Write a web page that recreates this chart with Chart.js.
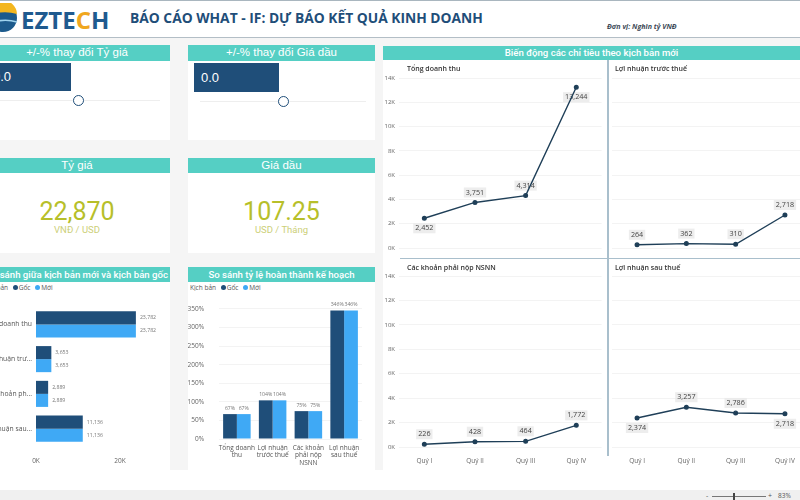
<!DOCTYPE html>
<html lang="vi">
<head>
<meta charset="utf-8">
<title>Báo cáo What-If</title>
<script src="https://cdn.jsdelivr.net/npm/chart.js@4"></script>
<style>
  html, body { margin: 0; padding: 0; }
  body { width: 800px; height: 500px; overflow: hidden; position: relative; background: #fff; font-family: "Open Sans", sans-serif; }
  .abs, canvas { position: absolute; }
  .card { position: absolute; background: #fff; }
  .head { position: absolute; background: #55cfc4; color: #fff; text-align: center; white-space: nowrap; }
  .ttl { position: absolute; font-size: 7px; font-weight: 600; color: #333; white-space: nowrap; }
  .big { position: absolute; text-align: center; font-family: Roboto, sans-serif; font-size: 25px; color: #b7bf2a; }
  .sub { position: absolute; text-align: center; font-family: Roboto, sans-serif; font-size: 9.5px; color: #cccf78; }
  .legend { position: absolute; font-size: 6.5px; color: #555; white-space: nowrap; }
  .legend i { display: inline-block; width: 5px; height: 5px; border-radius: 50%; margin: 0 1px 0 3px; }
</style>
</head>
<body>
<div class="abs" style="left:0;top:38px;width:800px;height:432px;background:#f5f5f5"></div>
<div class="abs" style="left:0;top:0;width:800px;height:38px;background:#fff;border-top:1px solid #a9b6bf;border-bottom:1px solid #b3bec6;box-sizing:border-box"></div>

<svg class="abs" style="left:0;top:3px" width="21" height="30">
  <circle cx="3" cy="15" r="14" fill="#1c5a8c"/>
  <path d="M-11 12 A14 14 0 0 1 17 11 Q4 7 -11 12Z" fill="#f3b61f"/>
  <path d="M-9 20 Q4 15 17 19" stroke="#9fd3ee" stroke-width="1.5" fill="none"/>
</svg>
<div class="abs" style="left:21px;top:3px;font:700 24px 'Open Sans',sans-serif;color:#1f5a8f;white-space:nowrap">EZTE<span style="color:#f0a71f">C</span>H</div>
<div class="abs" style="left:130px;top:8px;font:700 13.8px 'Open Sans',sans-serif;color:#1f4e79;white-space:nowrap">BÁO CÁO WHAT - IF: DỰ BÁO KẾT QUẢ KINH DOANH</div>
<div class="abs" style="left:607px;top:21px;font:italic 700 7.1px 'Open Sans',sans-serif;color:#3d4a57;white-space:nowrap">Đơn vị: Nghìn tỷ VNĐ</div>

<!-- thẻ nhập -->
<div class="card" style="left:-16px;top:45px;width:186px;height:95px"></div>
<div class="card" style="left:188px;top:45px;width:187px;height:95px"></div>
<div class="head" style="left:-16px;top:45px;width:186px;height:16px;font:11.5px/15px 'Liberation Sans',sans-serif">+/-% thay đổi Tỷ giá</div>
<div class="head" style="left:188px;top:45px;width:187px;height:16px;font:11.5px/15px 'Liberation Sans',sans-serif">+/-% thay đổi Giá dầu</div>
<div class="abs" style="left:-14px;top:63px;width:85px;height:28px;background:#1f4e79;color:#fff;font:13px/28px 'Liberation Sans',sans-serif;text-indent:7px">0.0</div>
<div class="abs" style="left:194px;top:63px;width:85px;height:29px;background:#1f4e79;color:#fff;font:13px/29px 'Liberation Sans',sans-serif;text-indent:7px">0.0</div>
<div class="abs" style="left:0;top:100px;width:160px;height:1px;background:#eee"></div>
<div class="abs" style="left:200px;top:101px;width:166px;height:1px;background:#eee"></div>
<div class="abs" style="left:73px;top:95px;width:9px;height:9px;border:1.5px solid #1f4e79;border-radius:50%;background:#fff"></div>
<div class="abs" style="left:278px;top:96px;width:9px;height:9px;border:1.5px solid #1f4e79;border-radius:50%;background:#fff"></div>

<!-- thẻ giá trị -->
<div class="card" style="left:-16px;top:158px;width:186px;height:95px"></div>
<div class="card" style="left:188px;top:158px;width:187px;height:95px"></div>
<div class="head" style="left:-16px;top:158px;width:186px;height:15px;font:11.5px/14px 'Liberation Sans',sans-serif">Tỷ giá</div>
<div class="head" style="left:188px;top:158px;width:187px;height:15px;font:11.5px/14px 'Liberation Sans',sans-serif">Giá dầu</div>
<div class="big" style="left:-16px;top:197px;width:186px">22,870</div>
<div class="big" style="left:188px;top:197px;width:187px">107.25</div>
<div class="sub" style="left:-16px;top:224px;width:186px">VNĐ / USD</div>
<div class="sub" style="left:188px;top:224px;width:187px">USD / Tháng</div>

<!-- thẻ so sánh -->
<div class="card" style="left:-16px;top:267px;width:186px;height:203px"></div>
<div class="card" style="left:188px;top:267px;width:187px;height:203px"></div>
<div class="head" style="left:-16px;top:267px;width:186px;height:15px;font:500 9.6px/15px Roboto,sans-serif">So sánh giữa kịch bản mới và kịch bản gốc</div>
<div class="head" style="left:188px;top:267px;width:187px;height:15px;font:500 9.6px/15px Roboto,sans-serif">So sánh tỷ lệ hoàn thành kế hoạch</div>
<div class="legend" style="left:-18px;top:283px">Kịch bản <i style="background:#1f4e79"></i>Gốc <i style="background:#3fa9f5"></i>Mới</div>
<div class="legend" style="left:190px;top:283px">Kịch bản <i style="background:#1f4e79"></i>Gốc <i style="background:#3fa9f5"></i>Mới</div>
<canvas id="cmpBars"></canvas>
<canvas id="pctBars"></canvas>

<!-- biến động -->
<div class="card" style="left:383px;top:46px;width:417px;height:424px"></div>
<div class="head" style="left:383px;top:46px;width:417px;height:14px;font:500 9.6px/14px Roboto,sans-serif">Biến động các chỉ tiêu theo kịch bản mới</div>
<canvas id="doanhThu"></canvas>
<canvas id="truocThue"></canvas>
<canvas id="nsnn"></canvas>
<canvas id="sauThue"></canvas>
<div class="abs" style="left:400px;top:258px;width:400px;height:1px;background:#a9bfcc"></div>
<div class="abs" style="left:607px;top:60px;width:1.5px;height:396px;background:#a9bfcc"></div>
<div class="ttl" style="left:407px;top:64px">Tổng doanh thu</div>
<div class="ttl" style="left:615px;top:64px">Lợi nhuận trước thuế</div>
<div class="ttl" style="left:407px;top:263px">Các khoản phải nộp NSNN</div>
<div class="ttl" style="left:615px;top:263px">Lợi nhuận sau thuế</div>

<!-- thanh trạng thái -->
<div class="abs" style="left:0;top:490px;width:800px;height:10px;background:#f0f0f0"></div>
<div class="abs" style="left:706px;top:490px;font:7px/12px 'Open Sans',sans-serif;color:#555;white-space:nowrap">-</div>
<div class="abs" style="left:712px;top:496px;width:54px;height:1px;background:#777"></div>
<div class="abs" style="left:733px;top:493px;width:2px;height:7px;background:#444"></div>
<div class="abs" style="left:768px;top:490px;font:7px/12px 'Open Sans',sans-serif;color:#555">+</div>
<div class="abs" style="left:778px;top:490px;font:6.5px/12px 'Open Sans',sans-serif;color:#555">83%</div>

<script>
const quarters = ["Quý I", "Quý II", "Quý III", "Quý IV"];
const doanhThu = [2452, 3751, 4314, 13244];
const truocThue = [264, 362, 310, 2718];
const nsnn = [226, 428, 464, 1772];
const sauThue = [2374, 3257, 2786, 2718];
// điểm nào có nhãn nằm dưới đường
const doanhThuBelow = [0, 3];
const truocThueBelow = [];
const nsnnBelow = [];
const sauThueBelow = [0, 3];

const barCats = ["Tổng doanh thu", "Lợi nhuận trư...", "Các khoản ph...", "Lợi nhuận sau..."];
const barGoc = [23782, 3653, 2889, 11136];
const barMoi = [23782, 3653, 2889, 11136];

const pctCats = [["Tổng doanh", "thu"], ["Lợi nhuận", "trước thuế"], ["Các khoản", "phải nộp", "NSNN"], ["Lợi nhuận", "sau thuế"]];
const pctGoc = [67, 104, 75, 346];
const pctMoi = [67, 104, 75, 346];

const DARK = "#1f4e79", LIGHT = "#3fa9f5", LINE = "#1f3f58", AXIS = "#666", GRID = "#f3f3f3";
const FONT = "'Open Sans', sans-serif";

function place(id, left, top, w, h) {
  const el = document.getElementById(id);
  el.width = w; el.height = h;
  el.style.left = left + "px"; el.style.top = top + "px";
  return el;
}

// nhãn dạng chip xám, vẽ trước để đường đè lên như bản gốc
const chipLabels = {
  id: "chipLabels",
  beforeDatasetsDraw(chart, args, opts) {
    const ctx = chart.ctx, ds = chart.data.datasets[0];
    chart.getDatasetMeta(0).data.forEach((pt, i) => {
      const txt = ds.data[i].toLocaleString("en-US");
      const y = opts.below.includes(i) ? pt.y + 10 : pt.y - 10;
      ctx.save();
      ctx.font = "7.2px " + FONT;
      const w = ctx.measureText(txt).width + 4;
      ctx.fillStyle = "rgba(232,232,232,.8)";
      ctx.fillRect(pt.x - w / 2, y - 5, w, 10);
      ctx.fillStyle = "#444";
      ctx.textAlign = "center"; ctx.textBaseline = "middle";
      ctx.fillText(txt, pt.x, y);
      ctx.restore();
    });
  },
};

// nhãn giá trị cuối cột
const barLabels = {
  id: "barLabels",
  afterDatasetsDraw(chart) {
    const ctx = chart.ctx, horiz = chart.options.indexAxis === "y";
    ctx.save();
    ctx.font = "5.2px " + FONT;
    ctx.fillStyle = "#777";
    ctx.textBaseline = "middle";
    ctx.textAlign = horiz ? "left" : "center";
    chart.data.datasets.forEach((ds, d) => {
      chart.getDatasetMeta(d).data.forEach((bar, i) => {
        const txt = horiz ? ds.data[i].toLocaleString("en-US") : ds.data[i] + "%";
        if (horiz) ctx.fillText(txt, bar.x + 4, bar.y);
        else ctx.fillText(txt, bar.x, bar.y - 6);
      });
    });
    ctx.restore();
  },
};

function lineChart(id, values, below, box, pad, showY, showX) {
  const el = place(id, box[0], box[1], box[2], box[3]);
  new Chart(el.getContext("2d"), {
    type: "line",
    data: { labels: quarters, datasets: [{ data: values, borderColor: LINE, borderWidth: 1.4, tension: 0, pointRadius: 1.8, pointBackgroundColor: LINE, pointBorderColor: LINE }] },
    plugins: [chipLabels],
    options: {
      responsive: false, animation: false,
      layout: { padding: pad },
      plugins: { legend: { display: false }, tooltip: { enabled: false }, chipLabels: { below } },
      scales: {
        x: {
          offset: true, grid: { display: false, drawTicks: false }, border: { display: false },
          ticks: { display: showX, color: AXIS, font: { size: 6.5, family: FONT }, padding: 10, maxRotation: 0 },
          afterFit: (s) => { s.height = showX ? 23 : 0; },
        },
        y: {
          min: 0, max: 14000, grid: { color: GRID, drawTicks: false }, border: { display: false },
          ticks: { display: showY, stepSize: 2000, color: AXIS, font: { size: 6, family: FONT }, padding: 4, callback: (v) => v / 1000 + "K" },
          afterFit: (s) => { s.width = showY ? 20 : 0; },
        },
      },
    },
  });
}

lineChart("doanhThu", doanhThu, doanhThuBelow, [379, 60, 228, 198], { top: 18, bottom: 10 }, true, false);
lineChart("truocThue", truocThue, truocThueBelow, [607, 60, 208, 198], { top: 18, bottom: 10 }, false, false);
lineChart("nsnn", nsnn, nsnnBelow, [379, 258, 228, 212], { top: 18 }, true, true);
lineChart("sauThue", sauThue, sauThueBelow, [607, 258, 208, 212], { top: 18 }, false, true);

new Chart(place("cmpBars", -40, 290, 213, 180).getContext("2d"), {
  type: "bar",
  data: { labels: barCats, datasets: [
    { label: "Gốc", data: barGoc, backgroundColor: DARK, categoryPercentage: .75, barPercentage: 1 },
    { label: "Mới", data: barMoi, backgroundColor: LIGHT, categoryPercentage: .75, barPercentage: 1 },
  ] },
  plugins: [barLabels],
  options: {
    indexAxis: "y", responsive: false, animation: false,
    layout: { padding: { top: 17, right: 5 } },
    plugins: { legend: { display: false }, tooltip: { enabled: false } },
    scales: {
      x: {
        min: 0, max: 30000, grid: { display: false, drawTicks: false }, border: { display: false },
        ticks: { stepSize: 10000, autoSkip: false, color: AXIS, font: { size: 6.5, family: FONT }, padding: 11, maxRotation: 0, callback: (v) => (v % 20000 === 0 ? v / 1000 + "K" : "") },
        afterFit: (s) => { s.height = 24; },
      },
      y: {
        grid: { display: false, drawTicks: false }, border: { display: false },
        ticks: { color: "#555", font: { size: 6.8, family: FONT }, padding: 4, autoSkip: false },
        afterFit: (s) => { s.width = 76; },
      },
    },
  },
});

new Chart(place("pctBars", 188, 290, 187, 180).getContext("2d"), {
  type: "bar",
  data: { labels: pctCats, datasets: [
    { label: "Gốc", data: pctGoc, backgroundColor: DARK, categoryPercentage: .77, barPercentage: 1 },
    { label: "Mới", data: pctMoi, backgroundColor: LIGHT, categoryPercentage: .77, barPercentage: 1 },
  ] },
  plugins: [barLabels],
  options: {
    responsive: false, animation: false,
    layout: { padding: { top: 18, right: 13 } },
    plugins: { legend: { display: false }, tooltip: { enabled: false } },
    scales: {
      x: {
        grid: { display: false, drawTicks: false }, border: { display: false },
        ticks: { color: "#555", font: { size: 6.5, family: FONT, lineHeight: 1.15 }, padding: 5, maxRotation: 0, autoSkip: false },
        afterFit: (s) => { s.height = 31; },
      },
      y: {
        min: 0, max: 350, grid: { color: GRID, drawTicks: false }, border: { display: false },
        ticks: { stepSize: 50, color: AXIS, font: { size: 6.5, family: FONT }, padding: 15, callback: (v) => v + "%" },
        afterFit: (s) => { s.width = 31; },
      },
    },
  },
});
</script>
</body>
</html>
